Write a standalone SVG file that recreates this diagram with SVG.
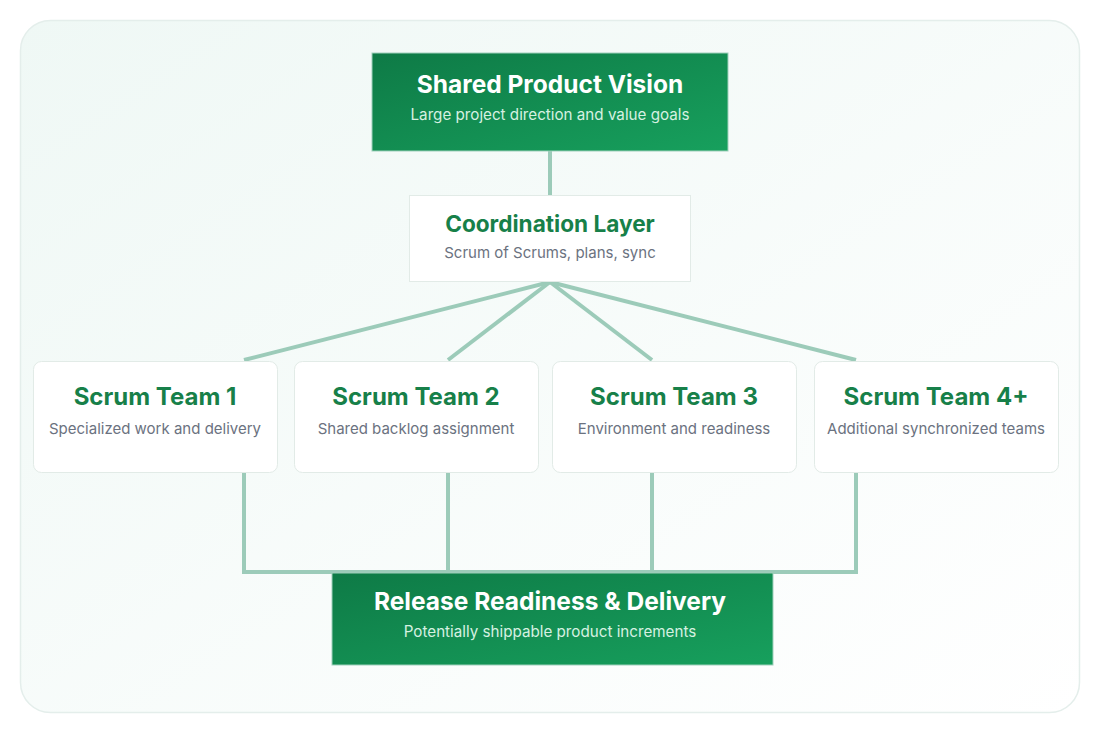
<svg xmlns="http://www.w3.org/2000/svg" width="1100" height="734" viewBox="0 0 1100 734">
<defs>
<linearGradient id="bg" x1="0" y1="0" x2="1" y2="1">
<stop offset="0" stop-color="#eff8f5"/>
<stop offset="1" stop-color="#ffffff"/>
</linearGradient>
<linearGradient id="dg" x1="0" y1="0" x2="1" y2="1">
<stop offset="0" stop-color="#0e7a46"/>
<stop offset="1" stop-color="#17a05d"/>
</linearGradient>
<style>
.t{font-family:Inter,"Liberation Sans",sans-serif;text-anchor:middle}
.wt{font-size:24.5px;font-weight:700;fill:#ffffff}
.ws{font-size:15.2px;fill:#d6f1e1}
.gt{font-size:24px;font-weight:700;fill:#178049}
.ct{font-size:22.6px}
.gs{font-size:15px;fill:#6b7280}
.card{fill:#ffffff;stroke:#e2ebe7;stroke-width:1}
.dark{fill:url(#dg);stroke:#9fd0bc;stroke-width:1}
.c{stroke:#9ccbb9;stroke-width:4;fill:none}
</style>
</defs>
<rect x="20.5" y="20.5" width="1059" height="692" rx="30" fill="url(#bg)" stroke="#e4eeeb" stroke-width="1.5"/>
<g id="connectors">
<line class="c" x1="550" y1="151" x2="550" y2="196"/>
<line class="c" x1="550" y1="282" x2="244" y2="360"/>
<line class="c" x1="550" y1="282" x2="448" y2="360"/>
<line class="c" x1="550" y1="282" x2="652" y2="360"/>
<line class="c" x1="550" y1="282" x2="856" y2="360"/>
<polyline class="c" points="244,473 244,572 856,572 856,473"/>
<line class="c" x1="448" y1="473" x2="448" y2="572"/>
<line class="c" x1="652" y1="473" x2="652" y2="572"/>
</g>
<g id="vision">
<rect class="dark" x="372" y="53" width="356" height="98"/>
<text class="t wt" x="550" y="93">Shared Product Vision</text>
<text class="t ws" x="550" y="120">Large project direction and value goals</text>
</g>
<g id="coordination">
<rect class="card" x="409.5" y="195.5" width="281" height="86"/>
<text class="t gt ct" x="550" y="232">Coordination Layer</text>
<text class="t gs" x="550" y="258">Scrum of Scrums, plans, sync</text>
</g>
<g id="team1">
<rect class="card" x="33.5" y="361.5" width="244" height="111" rx="8"/>
<text class="t gt" x="155" y="405">Scrum Team 1</text>
<text class="t gs" x="155" y="434">Specialized work and delivery</text>
</g>
<g id="team2">
<rect class="card" x="294.5" y="361.5" width="244" height="111" rx="8"/>
<text class="t gt" x="416" y="405">Scrum Team 2</text>
<text class="t gs" x="416" y="434">Shared backlog assignment</text>
</g>
<g id="team3">
<rect class="card" x="552.5" y="361.5" width="244" height="111" rx="8"/>
<text class="t gt" x="674" y="405">Scrum Team 3</text>
<text class="t gs" x="674" y="434">Environment and readiness</text>
</g>
<g id="team4">
<rect class="card" x="814.5" y="361.5" width="244" height="111" rx="8"/>
<text class="t gt" x="936" y="405">Scrum Team 4+</text>
<text class="t gs" x="936" y="434">Additional synchronized teams</text>
</g>
<g id="release">
<rect class="dark" x="332" y="573" width="441" height="92"/>
<text class="t wt" x="550" y="610">Release Readiness &amp; Delivery</text>
<text class="t ws" x="550" y="637">Potentially shippable product increments</text>
</g>
</svg>
